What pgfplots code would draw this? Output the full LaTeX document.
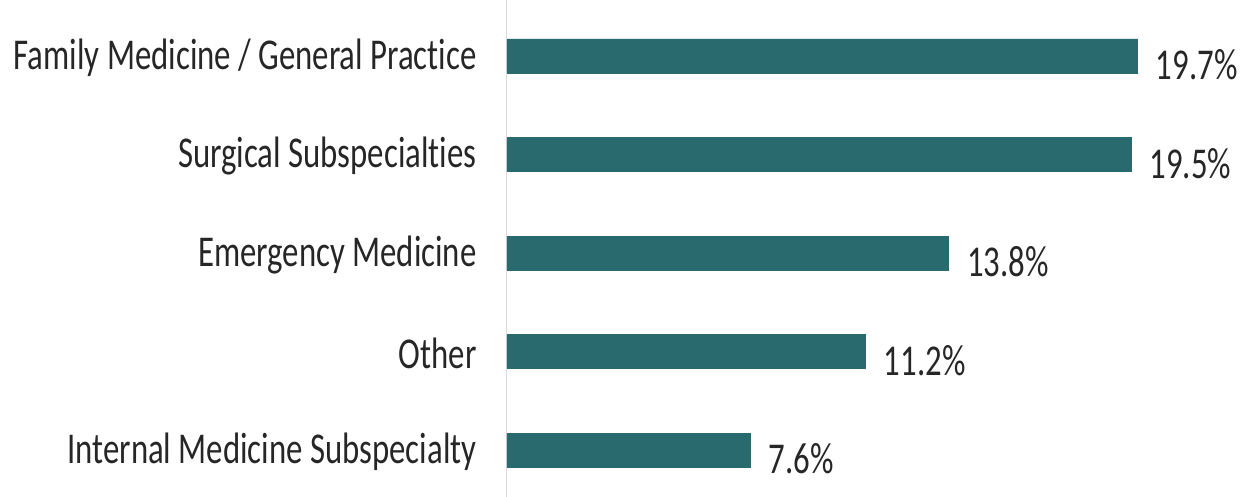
\documentclass[border=0pt]{standalone}
\usepackage{fontspec}
\setmainfont[FakeStretch=0.745,Ligatures={NoCommon,NoRare,NoDiscretionary}]{Carlito}
\usepackage{pgfplots}
\pgfplotsset{compat=1.18}
\definecolor{barteal}{HTML}{286A6E}
\definecolor{axgray}{HTML}{D9D9D9}
\begin{document}
\begin{tikzpicture}
\begin{axis}[
  scale only axis,
  width=704pt, height=497pt,
  xmin=0, xmax=22,
  ymin=-0.477, ymax=4.5685,
  xbar, bar width=34pt,
  axis x line=none,
  axis y line*=left,
  y axis line style={draw=axgray, line width=1pt, -},
  ytick={0,1,2,3,4},
  yticklabels={Internal Medicine Subspecialty, Other, Emergency Medicine, Surgical Subspecialties, Family Medicine / General Practice},
  major tick length=0pt,
  yticklabel style={font=\fontsize{44}{48}\selectfont, color=black!85, xshift=-27pt, yshift=-2pt},
  nodes near coords={\pgfmathprintnumber[fixed,precision=1,fixed zerofill,assume math mode=true]{\pgfplotspointmeta}\%},
  nodes near coords style={font=\fontsize{44}{48}\selectfont, color=black!85, anchor=west, xshift=15pt, yshift=-9pt},
  point meta=explicit,
  clip=false,
]
\addplot[fill=barteal, draw=barteal] coordinates {
  (7.6,0) [7.6]
  (11.2,1) [11.2]
  (13.8,2) [13.8]
  (19.5,3) [19.5]
  (19.7,4) [19.7]
};
\end{axis}
\pgfresetboundingbox
\path (-507pt,0pt) rectangle (741pt,497pt);
\end{tikzpicture}
\end{document}
